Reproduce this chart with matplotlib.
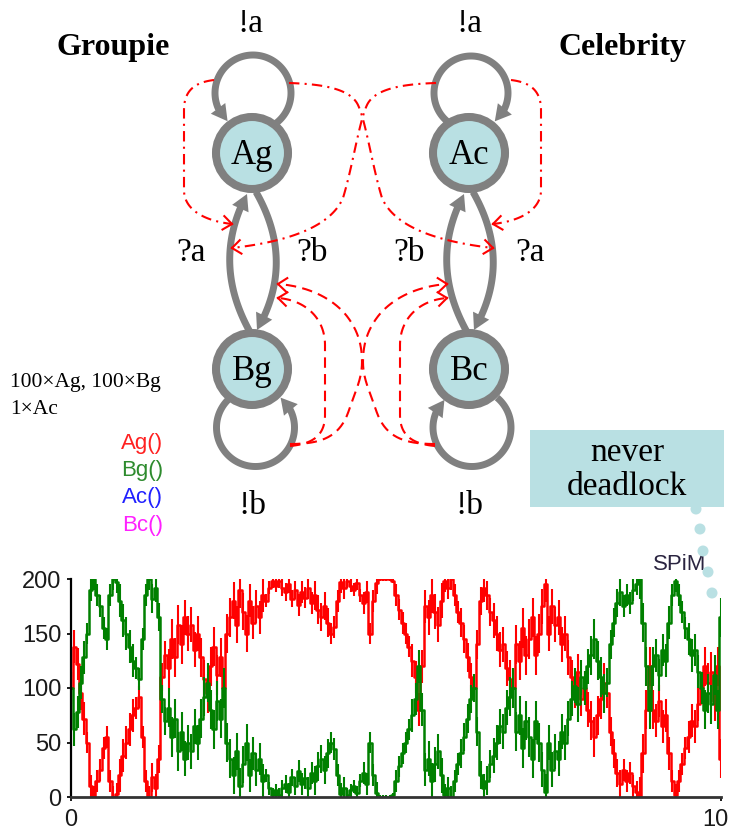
import numpy as np
import matplotlib.pyplot as plt
import matplotlib.transforms as mtransforms
from matplotlib.patches import Circle, Rectangle, Polygon

T_STEP = 0.05
ag = [100, 138, 122, 95, 72, 50, 10, 0, 15, 25, 45, 55, 15, 0, 3, 20, 38, 50, 62, 75,
      82, 92, 55, 15, 0, 18, 8, 35, 110, 130, 118, 145, 128, 158, 140, 165, 150, 158, 135, 150,
      128, 108, 95, 120, 138, 112, 128, 100, 150, 165, 180, 158, 190, 170, 150, 180, 160, 175, 165, 185,
      180, 192, 198, 194, 198, 192, 188, 195, 182, 190, 176, 188, 183, 192, 178, 185, 172, 165, 175, 160,
      150, 156, 180, 197, 192, 198, 194, 190, 196, 185, 178, 188, 150, 180, 196, 200, 200, 200, 200, 198,
      185, 172, 160, 150, 138, 125, 110, 80, 120, 175, 165, 185, 170, 158, 180, 198, 192, 200, 185, 170,
      160, 145, 128, 110, 100, 140, 180, 192, 185, 170, 162, 150, 135, 140, 118, 108, 100, 140, 125, 155,
      130, 145, 165, 130, 150, 175, 195, 150, 175, 158, 165, 140, 150, 128, 110, 98, 115, 90, 100, 80,
      70, 55, 75, 90, 105, 95, 60, 40, 22, 12, 25, 15, 22, 10, 5, 0, 40, 80, 120, 80,
      70, 88, 65, 75, 40, 15, 2, 15, 30, 45, 55, 70, 65, 85, 100, 120, 105, 115, 88, 120,
      35]
bg = [100, 62, 78, 105, 128, 150, 190, 200, 185, 175, 155, 145, 185, 200, 197, 180, 162, 150, 138, 125,
      118, 108, 145, 185, 200, 182, 192, 165, 90, 70, 82, 55, 72, 42, 60, 35, 50, 42, 65, 50,
      72, 92, 105, 80, 62, 88, 72, 100, 50, 35, 20, 42, 10, 30, 50, 20, 40, 25, 35, 15,
      20, 8, 2, 6, 2, 8, 12, 5, 18, 10, 24, 12, 17, 8, 22, 15, 28, 35, 25, 40,
      50, 44, 20, 3, 8, 2, 6, 10, 4, 15, 22, 12, 50, 20, 4, 0, 0, 0, 0, 2,
      15, 28, 40, 50, 62, 75, 90, 120, 80, 25, 35, 15, 30, 42, 20, 2, 8, 0, 15, 30,
      40, 55, 72, 90, 100, 60, 20, 8, 15, 30, 38, 50, 65, 60, 82, 92, 100, 60, 75, 45,
      70, 55, 35, 70, 50, 25, 5, 50, 25, 42, 35, 60, 50, 72, 90, 102, 85, 110, 100, 120,
      130, 145, 125, 110, 95, 105, 140, 160, 178, 188, 175, 185, 178, 190, 195, 200, 160, 120, 80, 120,
      130, 112, 135, 125, 160, 185, 198, 185, 170, 155, 145, 130, 135, 115, 100, 80, 95, 85, 112, 80,
      165]
# half-width of the jitter band around the trace, per 0.25 time units
SPREAD_STEP = 0.25
spread = [15, 10, 10, 15, 10, 13, 18, 16, 18, 18, 17, 15, 6, 8, 10, 13, 10, 6, 10, 2,
          10, 15, 16, 10, 13, 13, 16, 18, 18, 16, 16, 16, 18, 13, 10, 18, 15, 10, 15, 18, 18]
y_ticks = [0, 50, 100, 150, 200]
x_ticks = [0, 10]
legend_names = ['Ag()', 'Bg()', 'Ac()', 'Bc()']
legend_colors = ['#ff2020', '#2e8b2e', '#2020ff', '#ff20ff']

W, H = 730, 831
GRAY = '#808080'
TEAL = '#b9e0e3'
RED = '#ff0000'
SERIF = 'Liberation Serif'
SANS = 'Liberation Sans'

fig = plt.figure(figsize=(W / 100, H / 100), dpi=100)
d = fig.add_axes([0, 0, 1, 1])
d.set_xlim(0, W)
d.set_ylim(H, 0)
d.axis('off')


def head(tip, frm, L=16, w=9):
    tip = np.array(tip, float)
    v = tip - np.array(frm, float)
    v /= np.hypot(*v)
    n = np.array([-v[1], v[0]])
    base = tip - L * v
    d.add_patch(Polygon([tip, base + w * n, base - w * n], closed=True,
                        color=GRAY, zorder=3, lw=0))


def open_head(tip, frm, L=11, ang=38):
    tip = np.array(tip, float)
    v = np.array(frm, float) - tip
    v /= np.hypot(*v)
    for s in (1, -1):
        a = np.radians(ang * s)
        r = np.array([v[0] * np.cos(a) - v[1] * np.sin(a),
                      v[0] * np.sin(a) + v[1] * np.cos(a)])
        p = tip + L * r
        d.plot([tip[0], p[0]], [tip[1], p[1]], color=RED, lw=1.5, zorder=4)


def loop(c, r, t0, t1, tip_t):
    th = np.radians(np.linspace(t0, t1, 120))
    x = c[0] + r * np.cos(th)
    y = c[1] - r * np.sin(th)
    d.plot(x, y, color=GRAY, lw=5, solid_capstyle='butt', zorder=2)
    tt = np.radians(tip_t)
    head((c[0] + r * np.cos(tt), c[1] - r * np.sin(tt)), (x[-1], y[-1]))


def bez2(p0, c, p2, cut=0.9):
    t = np.linspace(0, cut, 60)[:, None]
    p0, c, p2 = map(np.array, (p0, c, p2))
    pts = (1 - t) ** 2 * p0 + 2 * (1 - t) * t * c + t ** 2 * p2
    d.plot(pts[:, 0], pts[:, 1], color=GRAY, lw=5, solid_capstyle='butt', zorder=2)
    head(p2, pts[-3])


def curve(segs, ls, tip, mirror=False):
    pts = []
    for p0, c1, c2, p3 in segs:
        t = np.linspace(0, 1, 40)[:, None]
        p0, c1, c2, p3 = map(np.array, (p0, c1, c2, p3))
        pts.append((1 - t) ** 3 * p0 + 3 * (1 - t) ** 2 * t * c1
                   + 3 * (1 - t) * t ** 2 * c2 + t ** 3 * p3)
    pts = np.vstack(pts)
    tip = np.array(tip, float)
    if mirror:
        pts[:, 0] = 725 - pts[:, 0]
        tip[0] = 725 - tip[0]
    d.plot(pts[:, 0], pts[:, 1], color=RED, lw=1.5, ls=ls, zorder=4)
    open_head(tip, pts[-4])


# nodes
nodes = {'Ag': (252, 153), 'Ac': (469, 153), 'Bg': (252, 369), 'Bc': (469, 369)}
for name, (x, y) in nodes.items():
    d.add_patch(Circle((x, y), 36, fc=TEAL, ec=GRAY, lw=5.8, zorder=5))
    d.text(x, y + 2, name, ha='center', va='center', fontsize=25,
           family=SERIF, zorder=6)

# self loops
loop((253, 93), 38, -60, 205, 228)
loop((471, 93), 37, 240, -28, -50)
loop((255.5, 427.5), 39, 130, 390, 410)
loop((472, 427.5), 39, 50, -205, -225)

# edges between A and B states
for dx in (0, 217):
    bez2((250 + dx, 332), (211 + dx, 262), (247 + dx, 194))
    bez2((256 + dx, 192), (296 + dx, 262), (257 + dx, 330))

# synchronisation hints (red)
DD = (0, (5, 2.5, 1, 2.5))
DA = (0, (5, 3))
top_a = [((214, 80), (198, 82), (184, 88), (184, 110)),
         ((184, 110), (184, 140), (184, 165), (184, 190)),
         ((184, 190), (184, 210), (205, 221), (232, 224))]
top_b = [((289, 83), (320, 84), (350, 88), (358, 105)),
         ((358, 105), (366, 122), (372, 165), (382, 198)),
         ((382, 198), (395, 228), (440, 242), (493, 248))]
bot_in = [((290, 446), (312, 444), (325, 436), (325, 415)),
          ((325, 415), (325, 390), (325, 370), (325, 345)),
          ((325, 345), (325, 318), (305, 300), (278, 298))]
bot_out = [((290, 444), (320, 444), (340, 438), (349, 410)),
           ((349, 410), (356, 390), (362, 378), (362, 362)),
           ((362, 362), (362, 345), (358, 330), (346, 315)),
           ((346, 315), (330, 296), (305, 286), (278, 284))]
for m in (False, True):
    curve(top_a, DD, top_a[-1][-1], m)
    curve(top_b, DD, top_b[-1][-1], m)
    curve(bot_in, DA, bot_in[-1][-1], m)
    curve(bot_out, DA, bot_out[-1][-1], m)

# labels
for x, y, s in [(250, 24, '!a'), (469, 24, '!a'), (191, 253, '?a'), (312, 253, '?b'),
                (409, 253, '?b'), (530, 253, '?a'), (252, 506, '!b'), (469, 506, '!b')]:
    d.text(x, y, s, ha='center', va='center', fontsize=24, family=SERIF)
d.text(113, 47, 'Groupie', ha='center', va='center', fontsize=23,
       family=SERIF, weight='bold')
d.text(622, 47, 'Celebrity', ha='center', va='center', fontsize=23,
       family=SERIF, weight='bold')
d.text(10, 383, '100×Ag, 100×Bg', ha='left', va='center', fontsize=15.5, family=SERIF)
d.text(10, 410, '1×Ac', ha='left', va='center', fontsize=15.5, family=SERIF)
for i, (s, c) in enumerate(zip(legend_names, legend_colors)):
    d.text(163, 443 + 27.5 * i, s, ha='right', va='center', fontsize=16,
           family=SANS, color=c)

# callout
d.add_patch(Rectangle((530, 430), 194, 77, fc=TEAL, ec='none'))
d.text(627, 453, 'never', ha='center', va='center', fontsize=24, family=SERIF)
d.text(627, 487, 'deadlock', ha='center', va='center', fontsize=24, family=SERIF)
for x, y in [(696, 509), (700, 529), (703, 551), (708, 572), (712, 593)]:
    d.add_patch(Circle((x, y), 5.5, fc=TEAL, ec='none', zorder=8))
d.text(680, 564, 'SPiM', ha='center', va='center', fontsize=16, family=SANS,
       color='#2a2440', zorder=7)

# time series
ax = fig.add_axes([71 / W, 34 / H, 650 / W, 218 / H])
ax.patch.set_alpha(0)
t = np.arange(len(ag)) * T_STEP
per = int(round(SPREAD_STEP / T_STEP))
band = np.array([spread[i // per] for i in range(len(ag))], float)
for vals, col in ((ag, '#ff0000'), (bg, '#008000')):
    vals = np.array(vals, float)
    ax.vlines(t, np.clip(vals - band, 0, 200), np.clip(vals + band, 0, 200),
              color=col, lw=1.5)
    ax.plot(t, vals, color=col, lw=1.8, drawstyle='steps-mid')
ax.set_xlim(0, 10)
ax.set_ylim(0, 200)
ax.set_yticks(y_ticks)
ax.set_xticks(x_ticks)
ax.spines['top'].set_visible(False)
ax.spines['right'].set_visible(False)
ax.spines['left'].set_linewidth(1.6)
ax.spines['bottom'].set_linewidth(2)
ax.spines['bottom'].set_color('#333333')
ax.tick_params(axis='both', length=3, width=1.4, labelsize=17, colors='#1a1a1a')
ax.tick_params(axis='y', pad=4)
ax.tick_params(axis='x', pad=6)
for lab in ax.get_xticklabels() + ax.get_yticklabels():
    lab.set_family(SANS)
last = ax.get_xticklabels()[-1]
last.set_transform(last.get_transform()
                   + mtransforms.ScaledTranslation(-6 / 100, 0, fig.dpi_scale_trans))
ax.set_zorder(1)

fig.savefig('out.png', dpi=100)
